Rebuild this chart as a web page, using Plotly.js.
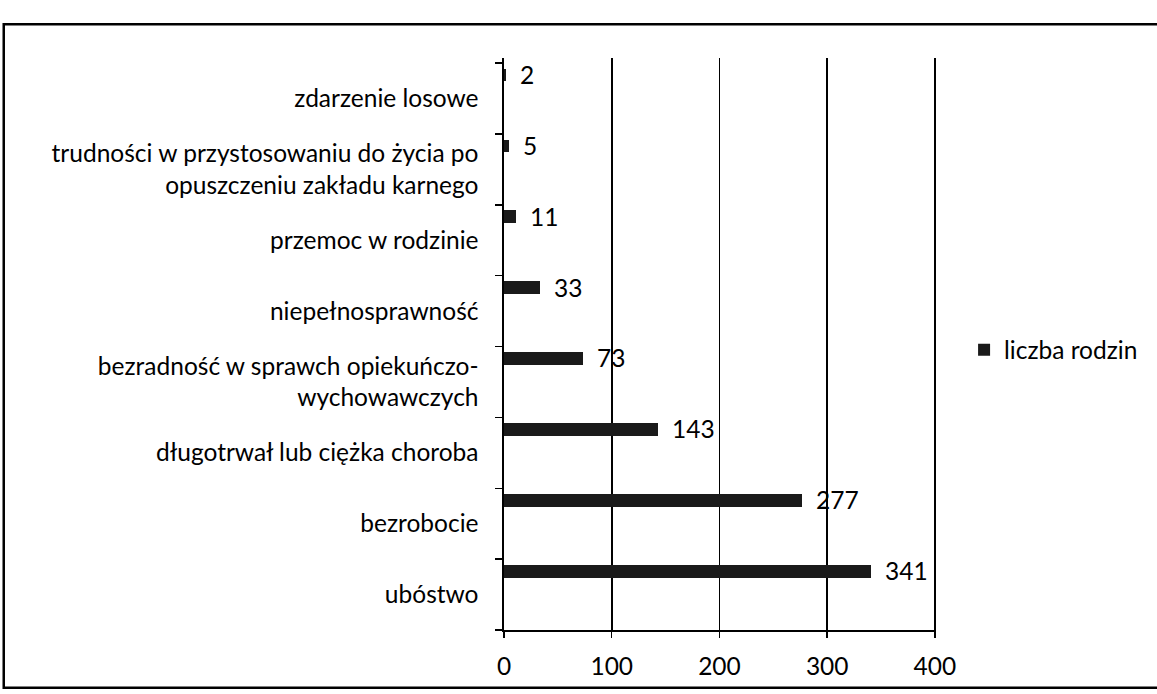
<!DOCTYPE html>
<html>
<head>
<meta charset="utf-8">
<script src="https://cdn.plot.ly/plotly-3.0.1.min.js"></script>
<style>html,body{margin:0;padding:0;background:#fff;}#chart{width:1157px;height:694px;}</style>
</head>
<body>
<div id="chart"></div>
<script>
// Data (bottom to top)
const categories = [
  "ubóstwo",
  "bezrobocie",
  "długotrwał lub ciężka choroba",
  "bezradność w sprawch opiekuńczo-<br>wychowawczych",
  "niepełnosprawność",
  "przemoc w rodzinie",
  "trudności w przystosowaniu do życia po<br>opuszczeniu zakładu karnego",
  "zdarzenie losowe"
];
const values = [341, 277, 143, 73, 33, 11, 5, 2];
const seriesName = "liczba rodzin";
const xTicks = [0, 100, 200, 300, 400];

const FONT = "Lato, 'Open Sans', sans-serif";
const FS = 24.5;

const trace = {
  type: "bar",
  orientation: "h",
  name: seriesName,
  x: values,
  y: categories,
  width: 0.18,
  offset: 0.24,
  marker: {color: "#1a1a1a", line: {width: 0}},
  showlegend: true,
  hoverinfo: "x+y"
};

const annotations = values.map((v, i) => ({
  x: v, y: categories[i], xref: "x", yref: "y",
  text: String(v), showarrow: false,
  xanchor: "left", yanchor: "middle",
  xshift: 12, yshift: 24,
  font: {family: FONT, size: FS, color: "#000"}
}));

const layout = {
  width: 1157, height: 694,
  margin: {l: 504, r: 221, t: 58, b: 64, pad: 0, autoexpand: false},
  paper_bgcolor: "#fff", plot_bgcolor: "#fff",
  font: {family: FONT, size: FS, color: "#000"},
  bargap: 0,
  xaxis: {
    range: [0, 401], tickvals: xTicks, ticktext: xTicks.map(String),
    showgrid: true, gridcolor: "#000", gridwidth: 1.6,
    zeroline: false, showline: true, linecolor: "#000", linewidth: 1.6,
    ticks: "outside", ticklen: 6, tickcolor: "#000", tickwidth: 1.5,
    ticklabelstandoff: 8,
    tickfont: {family: FONT, size: FS, color: "#000"},
    fixedrange: true
  },
  yaxis: {
    type: "category", categoryorder: "array", categoryarray: categories,
    tickson: "boundaries",
    showgrid: false, zeroline: false,
    showline: true, linecolor: "#000", linewidth: 1.6,
    ticks: "outside", ticklen: 7, tickcolor: "#000", tickwidth: 1.5,
    ticklabelstandoff: 19,
    tickfont: {family: FONT, size: FS, color: "#000"},
    fixedrange: true
  },
  legend: {
    x: 1.065, y: 0.49, xanchor: "left", yanchor: "middle",
    font: {family: FONT, size: FS, color: "#000"},
    bgcolor: "rgba(0,0,0,0)", itemwidth: 30
  },
  annotations: annotations,
  shapes: [{
    type: "rect", xref: "paper", yref: "paper",
    x0: -1.158, x1: 1.53, y0: -0.101, y1: 1.059,
    line: {color: "#000", width: 2.5}, fillcolor: "rgba(0,0,0,0)", layer: "above"
  }]
};

Plotly.newPlot("chart", [trace], layout, {displayModeBar: false, staticPlot: true});
</script>
</body>
</html>
